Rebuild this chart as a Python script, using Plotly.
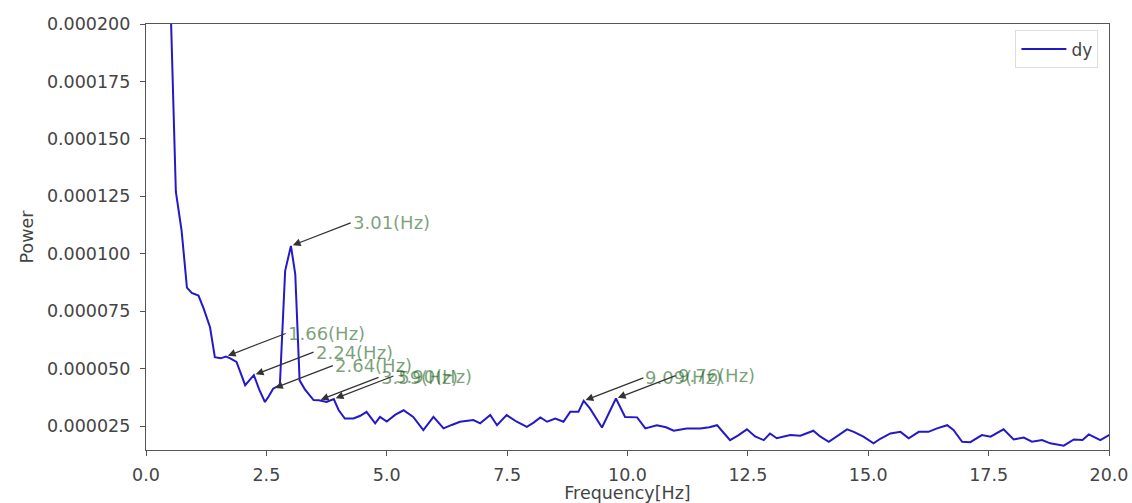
import plotly.graph_objects as go

# Power spectrum of dy
freq = [0.50, 0.53, 0.62, 0.74, 0.78, 0.85, 0.95, 1.09, 1.20, 1.33, 1.43, 1.55, 1.66,
        1.75, 1.88, 2.06, 2.15, 2.24, 2.35, 2.47, 2.55, 2.64, 2.78, 2.89, 3.01, 3.10,
        3.19, 3.30, 3.48, 3.59, 3.75, 3.90, 4.00, 4.13, 4.31, 4.45, 4.58, 4.76, 4.86,
        5.00, 5.18, 5.35, 5.55, 5.76, 5.97, 6.18, 6.35, 6.52, 6.80, 6.94, 7.15, 7.29,
        7.49, 7.70, 7.91, 8.05, 8.19, 8.33, 8.50, 8.67, 8.81, 8.98, 9.09, 9.22, 9.47,
        9.62, 9.76, 9.95, 10.20, 10.37, 10.61, 10.80, 10.96, 11.23, 11.51, 11.70, 11.86,
        12.00, 12.13, 12.30, 12.48, 12.65, 12.83, 12.96, 13.10, 13.38, 13.59, 13.86,
        14.00, 14.18, 14.35, 14.56, 14.70, 14.90, 15.11, 15.25, 15.46, 15.67, 15.84,
        16.05, 16.25, 16.43, 16.64, 16.77, 16.95, 17.12, 17.36, 17.54, 17.81, 18.02,
        18.23, 18.40, 18.61, 18.78, 19.06, 19.27, 19.45, 19.58, 19.82, 20.03]
power = [2.16e-4, 1.95e-4, 1.27e-4, 1.10e-4, 1.01e-4, 8.53e-5, 8.30e-5, 8.18e-5, 7.60e-5,
         6.80e-5, 5.50e-5, 5.45e-5, 5.53e-5, 5.45e-5, 5.29e-5, 4.28e-5, 4.50e-5, 4.72e-5,
         4.10e-5, 3.55e-5, 3.80e-5, 4.13e-5, 4.28e-5, 9.26e-5, 1.034e-4, 9.12e-5, 4.49e-5,
         4.10e-5, 3.63e-5, 3.62e-5, 3.55e-5, 3.68e-5, 3.20e-5, 2.83e-5, 2.83e-5, 2.95e-5,
         3.12e-5, 2.62e-5, 2.90e-5, 2.70e-5, 3.00e-5, 3.19e-5, 2.90e-5, 2.33e-5, 2.90e-5,
         2.40e-5, 2.55e-5, 2.69e-5, 2.76e-5, 2.62e-5, 2.98e-5, 2.54e-5, 2.98e-5, 2.69e-5,
         2.47e-5, 2.65e-5, 2.88e-5, 2.69e-5, 2.83e-5, 2.69e-5, 3.12e-5, 3.12e-5, 3.60e-5,
         3.27e-5, 2.44e-5, 3.10e-5, 3.70e-5, 2.90e-5, 2.88e-5, 2.40e-5, 2.54e-5, 2.45e-5,
         2.30e-5, 2.40e-5, 2.40e-5, 2.45e-5, 2.54e-5, 2.20e-5, 1.89e-5, 2.10e-5, 2.36e-5,
         2.05e-5, 1.89e-5, 2.18e-5, 1.97e-5, 2.11e-5, 2.08e-5, 2.30e-5, 2.05e-5, 1.82e-5,
         2.05e-5, 2.36e-5, 2.25e-5, 2.04e-5, 1.75e-5, 1.95e-5, 2.18e-5, 2.25e-5, 1.97e-5,
         2.25e-5, 2.25e-5, 2.40e-5, 2.54e-5, 2.33e-5, 1.82e-5, 1.80e-5, 2.11e-5, 2.04e-5,
         2.36e-5, 1.92e-5, 2.00e-5, 1.82e-5, 1.89e-5, 1.75e-5, 1.65e-5, 1.92e-5, 1.90e-5,
         2.14e-5, 1.89e-5, 2.14e-5]

# Annotated peak frequencies
peak_freqs = [1.66, 2.24, 2.64, 3.01, 3.59, 3.90, 9.09, 9.76]

fig = go.Figure()
fig.add_trace(go.Scatter(
    x=freq, y=power, mode="lines", name="dy",
    line=dict(color="rgb(35,25,200)", width=2),
))

for f in peak_freqs:
    p = power[freq.index(f)]
    fig.add_annotation(
        x=f, y=p, xref="x", yref="y",
        ax=f + 1.24, ay=p + 1.0e-5, axref="x", ayref="y",
        text=f"{f:.2f}(Hz)", xanchor="left", yanchor="middle",
        font=dict(family="DejaVu Sans", size=18, color="rgba(30,100,30,0.6)"),
        showarrow=True, arrowhead=2, arrowsize=1.2, arrowwidth=1.3,
        arrowcolor="#333333", standoff=2,
    )

tick_font = dict(family="DejaVu Sans", size=17.5, color="#444444")
axis_common = dict(
    showgrid=False, zeroline=False, showline=True, mirror=True,
    linecolor="#555555", linewidth=1.2, ticks="outside", ticklen=5,
    tickcolor="#555555", tickfont=tick_font, automargin=False,
)

fig.update_xaxes(
    range=[0, 20], tickvals=[0, 2.5, 5, 7.5, 10, 12.5, 15, 17.5, 20],
    ticktext=["0.0", "2.5", "5.0", "7.5", "10.0", "12.5", "15.0", "17.5", "20.0"],
    ticklabelstandoff=4,
    title=dict(text="Frequency[Hz]", font=tick_font, standoff=12),
    **axis_common,
)
fig.update_yaxes(
    range=[1.46e-5, 2.0e-4],
    tickvals=[2.5e-5, 5.0e-5, 7.5e-5, 1.0e-4, 1.25e-4, 1.5e-4, 1.75e-4, 2.0e-4],
    ticktext=["0.000025", "0.000050", "0.000075", "0.000100", "0.000125",
              "0.000150", "0.000175", "0.000200"],
    ticklabelstandoff=6,
    title=dict(text="Power", font=tick_font, standoff=8),
    **axis_common,
)

fig.update_layout(
    width=1132, height=503,
    margin=dict(l=146, r=23, t=24, b=53),
    plot_bgcolor="white", paper_bgcolor="white",
    showlegend=True,
    legend=dict(
        x=0.989, y=0.985, xanchor="right", yanchor="top",
        bgcolor="white", bordercolor="#dddddd", borderwidth=1,
        itemwidth=45,
        font=dict(family="DejaVu Sans", size=17, color="#444444"),
    ),
)

fig.write_html("out.html")
